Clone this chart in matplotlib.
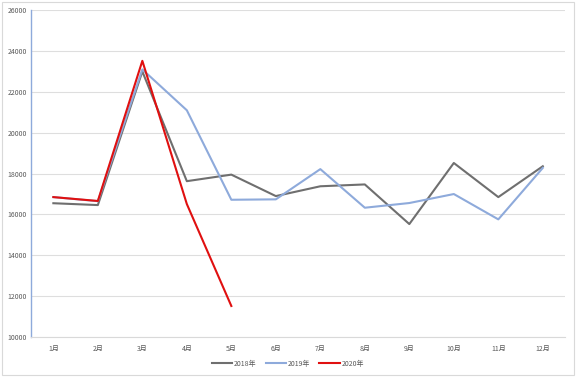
import matplotlib
matplotlib.use('Agg')
import matplotlib.pyplot as plt
from matplotlib.patches import Rectangle

plt.rcParams['font.family'] = ['Noto Sans CJK SC', 'DejaVu Sans']

# monthly values
months = ['1月', '2月', '3月', '4月', '5月', '6月', '7月', '8月', '9月', '10月', '11月', '12月']
y2018 = [16550, 16460, 23000, 17630, 17950, 16900, 17380, 17470, 15530, 18520, 16850, 18360]
y2019 = [16850, 16650, 23100, 21100, 16720, 16740, 18220, 16330, 16560, 17000, 15760, 18280]
y2020 = [16850, 16660, 23520, 16510, 11520]
yticks = [10000, 12000, 14000, 16000, 18000, 20000, 22000, 24000, 26000]

fig = plt.figure(figsize=(5.76, 3.77), dpi=100)
ax = fig.add_axes([0.054, 0.106, 0.927, 0.867])

x = list(range(len(months)))
ax.plot(x, y2018, color='#6f6f6f', lw=1.5, label='2018年')
ax.plot(x, y2019, color='#8eaadb', lw=1.5, label='2019年')
ax.plot(x[:len(y2020)], y2020, color='#e01010', lw=1.5, label='2020年')

ax.set_xlim(-0.5, 11.5)
ax.set_ylim(10000, 26000)
ax.set_yticks(yticks)
ax.set_yticklabels([str(v) for v in yticks])
ax.set_xticks(x)
ax.set_xticklabels(months)
ax.tick_params(axis='both', length=0, labelsize=5, labelcolor='#595959')
ax.tick_params(axis='x', pad=6)
ax.tick_params(axis='y', pad=3)
ax.grid(axis='y', color='#dedede', lw=0.8)
ax.set_axisbelow(True)
for s in ['top', 'right']:
    ax.spines[s].set_visible(False)
ax.spines['left'].set_color('#8eaadb')
ax.spines['left'].set_linewidth(1.0)
ax.spines['bottom'].set_color('#d9d9d9')
ax.spines['bottom'].set_linewidth(0.8)

fig.legend(loc='center', bbox_to_anchor=(0.5, 0.035), ncol=3, frameon=False,
           fontsize=5, handlelength=2.9, columnspacing=1.3, handletextpad=0.3,
           labelcolor='#595959')

fig.patches.append(Rectangle((0.003, 0.005), 0.994, 0.99, transform=fig.transFigure,
                             fill=False, edgecolor='#d9d9d9', lw=0.8))

fig.savefig('out.png', dpi=100)
